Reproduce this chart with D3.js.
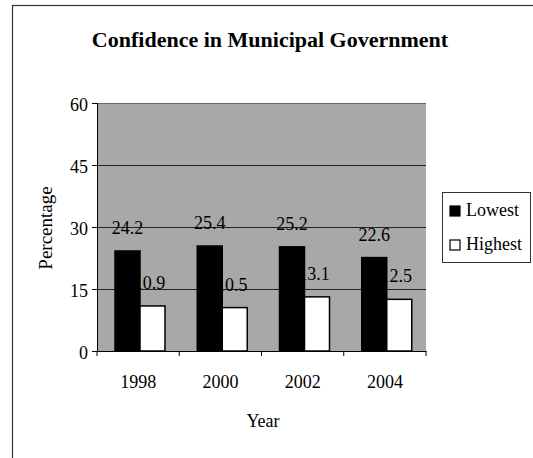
<!DOCTYPE html>
<html>
<head>
<meta charset="utf-8">
<script src="https://cdn.jsdelivr.net/npm/d3@7"></script>
<style>
  body { margin: 0; background: #fff; }
  svg { display: block; }
  svg text { font-family: "Liberation Serif", "Times New Roman", serif; fill: #000; }
</style>
</head>
<body>
<svg id="chart" width="533" height="458"></svg>
<script>
// data
var years = ["1998", "2000", "2002", "2004"];
var lowest = [24.2, 25.4, 25.2, 22.6];
var highest = [10.9, 10.5, 13.1, 12.5];
var seriesNames = ["Lowest", "Highest"];
var yTicks = [0, 15, 30, 45, 60];

var svg = d3.select("#chart"),
    margin = {top: 103, right: 107, bottom: 107, left: 97},
    width = +svg.attr("width") - margin.left - margin.right,
    height = +svg.attr("height") - margin.top - margin.bottom;

// outer frame (only top and left edges fall inside the picture)
svg.append("rect")
  .attr("x", 12.5).attr("y", 5.5)
  .attr("width", 540).attr("height", 480)
  .attr("fill", "none").attr("stroke", "#333").attr("stroke-width", 1.2);

var g = svg.append("g").attr("transform", "translate(" + margin.left + "," + margin.top + ")");

var x0 = d3.scaleBand().domain(years).range([0, width]);
var x1 = d3.scaleBand().domain(seriesNames).range([0, 50]);
var y = d3.scaleLinear().domain([0, 60]).range([height, 0]);
var colour = d3.scaleOrdinal().domain(seriesNames).range(["#000", "#fff"]);

// plot area
g.append("rect")
  .attr("width", width).attr("height", height)
  .attr("fill", "#a8a8a8");

// gridlines
g.append("g")
  .selectAll("line")
  .data(yTicks.slice(1))
  .enter().append("line")
  .attr("x1", 0).attr("x2", width)
  .attr("y1", function(d) { return y(d) + 0.5; })
  .attr("y2", function(d) { return y(d) + 0.5; })
  .attr("stroke", function(d) { return d == 60 ? "#666" : "#222"; })
  .attr("stroke-width", 1);

var rows = years.map(function(yr, i) {
  return {year: yr, values: [{key: "Lowest", v: lowest[i]}, {key: "Highest", v: highest[i]}]};
});

var groups = g.selectAll(".grp")
  .data(rows)
  .enter().append("g")
  .attr("class", "grp")
  .attr("transform", function(d) { return "translate(" + (x0(d.year) + 18) + ",0)"; });

groups.selectAll("rect")
  .data(function(d) { return d.values; })
  .enter().append("rect")
  .attr("x", function(d) { return x1(d.key); })
  .attr("y", function(d) { return y(d.v); })
  .attr("width", x1.bandwidth())
  .attr("height", function(d) { return height - y(d.v); })
  .attr("fill", function(d) { return colour(d.key); })
  .attr("stroke", "#000")
  .attr("stroke-width", 1.5);

// value labels; the leading "1" of the white-bar labels hides on the black bar
groups.selectAll("text")
  .data(function(d) { return d.values; })
  .enter().append("text")
  .attr("x", function(d) { return x1(d.key) + x1.bandwidth() / 2; })
  .attr("dx", function(d) { return d.key == "Highest" ? -3 : 0; })
  .attr("y", function(d) { return y(d.v) - 17; })
  .attr("text-anchor", "middle")
  .style("font-size", "18px")
  .text(function(d) { return d.v.toFixed(1); });

// axes
var yAxis = g.append("g")
  .call(d3.axisLeft(y).tickValues(yTicks).tickSize(5).tickPadding(4));
var xAxis = g.append("g")
  .attr("transform", "translate(0," + height + ")")
  .call(d3.axisBottom(x0).tickSize(0).tickPadding(24));

// x ticks sit between the groups
g.append("g")
  .selectAll("line")
  .data(d3.range(years.length + 1))
  .enter().append("line")
  .attr("x1", function(i) { return i * x0.step(); })
  .attr("x2", function(i) { return i * x0.step(); })
  .attr("y1", height).attr("y2", height + 5)
  .attr("stroke", "#000");

[yAxis, xAxis].forEach(function(a) {
  a.selectAll("text").style("font-size", "18px");
  a.selectAll("path, line").attr("stroke", "#000");
});
yAxis.selectAll("text").attr("dy", "0.4em");

// titles
svg.append("text")
  .attr("x", 270).attr("y", 47)
  .attr("text-anchor", "middle")
  .style("font-size", "22px")
  .style("font-weight", "bold")
  .text("Confidence in Municipal Government");

svg.append("text")
  .attr("x", 263).attr("y", 427)
  .attr("text-anchor", "middle")
  .style("font-size", "18px")
  .text("Year");

svg.append("text")
  .attr("transform", "translate(52,228) rotate(-90)")
  .attr("text-anchor", "middle")
  .style("font-size", "19px")
  .text("Percentage");

// legend
var legend = svg.append("g").attr("transform", "translate(442,192)");
legend.append("rect")
  .attr("x", 0.5).attr("y", 0.5)
  .attr("width", 88).attr("height", 70)
  .attr("fill", "#fff").attr("stroke", "#333");

var item = legend.selectAll(".legend")
  .data(seriesNames)
  .enter().append("g")
  .attr("class", "legend")
  .attr("transform", function(d, i) { return "translate(0," + (i * 34) + ")"; });

item.append("rect")
  .attr("x", 8).attr("y", 14)
  .attr("width", 10).attr("height", 10)
  .attr("fill", colour)
  .attr("stroke", "#000").attr("stroke-width", 1.2);

item.append("text")
  .attr("x", 24).attr("y", 24)
  .style("font-size", "18px")
  .text(function(d) { return d; });
</script>
</body>
</html>
